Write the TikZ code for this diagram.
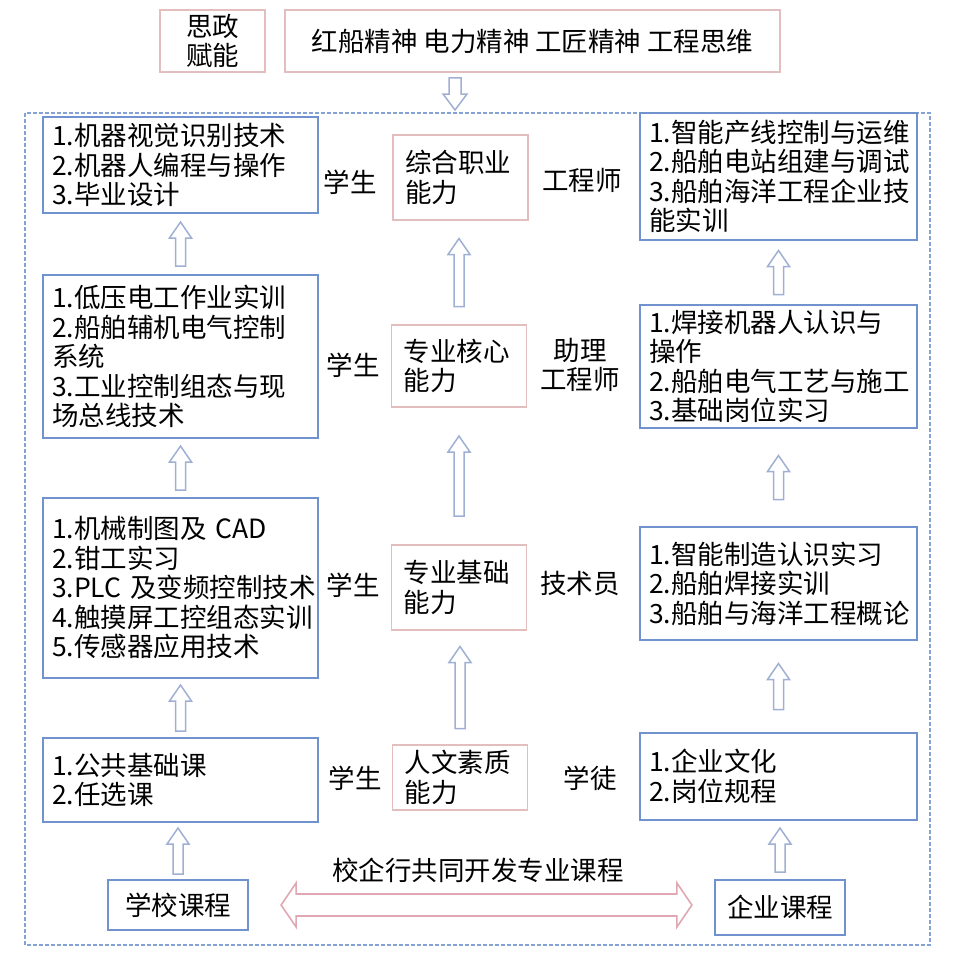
\documentclass[tikz,border=0pt]{standalone}
\usepackage{fontspec}
\setmainfont{Noto Sans CJK SC}
\usetikzlibrary{calc}

\definecolor{boxblue}{RGB}{112,146,206}
\definecolor{boxpink}{RGB}{226,190,190}
\definecolor{arrowblue}{RGB}{160,176,212}
\definecolor{frameblue}{RGB}{132,162,212}
\definecolor{dblpink}{RGB}{224,168,178}

% hollow block arrow of length #3, centred in the gap from the lower node #1 up to the upper node #2
\newcommand{\hollowup}[3]{%
  \draw[hollow] let \p1=(#1.north), \p2=($(#1.north)!0.5!(#2.south)$) in
    (\x1-5pt,\y2-#3/2) -- (\x1-5pt,\y2+#3/2-16pt) -- (\x1-11pt,\y2+#3/2-16pt) -- (\x1,\y2+#3/2)
    -- (\x1+11pt,\y2+#3/2-16pt) -- (\x1+5pt,\y2+#3/2-16pt) -- (\x1+5pt,\y2-#3/2) -- cycle;}

\begin{document}
\begin{tikzpicture}[x=1pt, y=-1pt,
  txt/.style={font=\fontsize{26.5}{29.5}\selectfont, inner sep=0pt},
  bluebox/.style={txt, draw=boxblue, line width=2.2pt, align=left, inner xsep=9pt},
  lbox/.style={bluebox, text width=257pt},
  rbox/.style={bluebox, text width=259pt},
  pinkbox/.style={txt, draw=boxpink, line width=1.8pt, align=left, text width=111pt, inner xsep=12pt},
  hollow/.style={draw=arrowblue, line width=1.5pt, fill=white, line join=miter},
  framedash/.style={draw=frameblue, line width=1.6pt, dash pattern=on 4pt off 2pt},
  dblarrow/.style={draw=dblpink, line width=1.6pt, fill=white}]
  \useasboundingbox (0,0) rectangle (958,972);

  % top row
  \node[pinkbox, align=center, text width=, minimum width=105pt, minimum height=62pt] (SZ) at (212.5,41) {思政\\赋能};
  \node[pinkbox, align=center, text width=, minimum width=495pt, minimum height=62pt] (Spirit) at (532.5,41) {红船精神 电力精神 工匠精神 工程思维};

  % outer frame
  \coordinate (frameNW) at (25,113);
  \coordinate (frameSE) at (930,945);
  \coordinate (frameTop) at (455,113);
  \draw[framedash] (frameNW) rectangle (frameSE);

  % school side
  \node[lbox, minimum height=96pt] (L1) at (180.5,165) {1.机器视觉识别技术\\2.机器人编程与操作\\3.毕业设计};
  \node[lbox, minimum height=163pt] (L2) at (180.5,356.5) {1.低压电工作业实训\\2.船舶辅机电气控制\\系统\\3.工业控制组态与现\\场总线技术};
  \node[lbox, minimum height=180pt] (L3) at (180.5,588) {1.机械制图及~CAD\\2.钳工实习\\3.PLC~及变频控制技术\\4.触摸屏工控组态实训\\5.传感器应用技术};
  \node[lbox, minimum height=84pt] (L4) at (180.5,780) {1.公共基础课\\2.任选课};
  \node[bluebox, align=center, minimum width=140pt, minimum height=50pt] (School) at (178,905) {学校课程};

  % abilities
  \node[pinkbox, minimum height=85pt] (M1) at (460.5,177.5) {综合职业\\能力};
  \node[pinkbox, minimum height=82pt] (M2) at (459,366) {专业核心\\能力};
  \node[pinkbox, minimum height=85pt] (M3) at (459,587.5) {专业基础\\能力};
  \node[pinkbox, minimum height=65pt] (M4) at (460,777.5) {人文素质\\能力};

  % enterprise side
  \node[rbox, minimum height=127pt] (R1) at (778.5,176.5) {1.智能产线控制与运维\\2.船舶电站组建与调试\\3.船舶海洋工程企业技\\能实训};
  \node[rbox, minimum height=123pt] (R2) at (778.5,366.5) {1.焊接机器人认识与\\操作\\2.船舶电气工艺与施工\\3.基础岗位实习};
  \node[rbox, minimum height=113pt] (R3) at (778.5,583.5) {1.智能制造认识实习\\2.船舶焊接实训\\3.船舶与海洋工程概论};
  \node[rbox, minimum height=87pt] (R4) at (778.5,776.5) {1.企业文化\\2.岗位规程};
  \node[bluebox, align=center, minimum width=130pt, minimum height=55pt] (Ent) at (780,907.5) {企业课程};

  % roles
  \node[txt] (S1) at (350,182) {学生};
  \node[txt] (S2) at (353,365) {学生};
  \node[txt] (S3) at (353,585) {学生};
  \node[txt] (S4) at (355,778) {学生};
  \node[txt] (E1) at (582,180) {工程师};
  \node[txt, align=center] (E2) at (580,365) {助理\\工程师};
  \node[txt] (E3) at (580,583) {技术员};
  \node[txt] (E4) at (590,778) {学徒};
  \node[txt] (Joint) at (478,870) {校企行共同开发专业课程};

  % hollow arrows
  \foreach \a/\b/\len in {L2/L1/44pt, L3/L2/44pt, L4/L3/46pt, School/L4/46pt,
      M2/M1/68pt, M3/M2/80pt, M4/M3/82pt,
      R2/R1/44pt, R3/R2/44pt, R4/R3/46pt, Ent/R4/44pt} {
    \hollowup{\a}{\b}{\len}
  }
  \draw[hollow] let \p1=($(Spirit.south -| frameTop)$), \p2=(frameTop) in
    (\x1-6pt,\y1-5pt) -- (\x1-6pt,\y2+19pt) -- (\x1-12pt,\y2+19pt) -- (\x1,\y2+3pt)
    -- (\x1+12pt,\y2+19pt) -- (\x1+6pt,\y2+19pt) -- (\x1+6pt,\y1-5pt) -- cycle;
  \draw[dblarrow] let \p1=(School.east), \p2=(Ent.west) in
    (\x1+32pt,\y1) -- (\x1+47pt,\y1+22pt) -- (\x1+47pt,\y1+11pt) -- (\x2-37pt,\y1+11pt)
    -- (\x2-37pt,\y1+22pt) -- (\x2-22pt,\y1) -- (\x2-37pt,\y1-22pt) -- (\x2-37pt,\y1-11pt)
    -- (\x1+47pt,\y1-11pt) -- (\x1+47pt,\y1-22pt) -- cycle;
\end{tikzpicture}
\end{document}
